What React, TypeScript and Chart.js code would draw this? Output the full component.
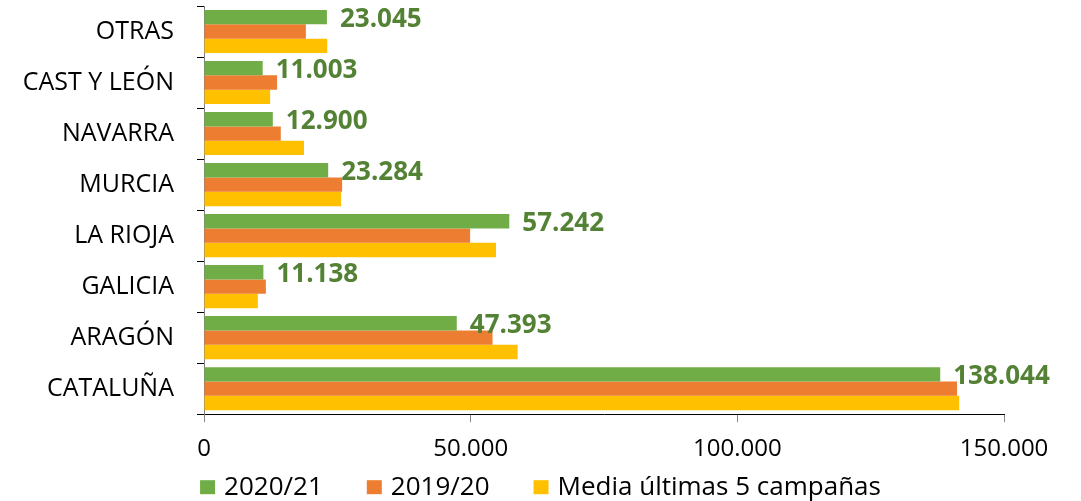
import React, { useEffect, useRef } from "react";
import { Chart, registerables } from "chart.js";

Chart.register(...registerables);

const categories = ["OTRAS", "CAST Y LEÓN", "NAVARRA", "MURCIA", "LA RIOJA", "GALICIA", "ARAGÓN", "CATALUÑA"];
const seriesNames = ["2020/21", "2019/20", "Media últimas 5 campañas"];
const values2021 = [23045, 11003, 12900, 23284, 57242, 11138, 47393, 138044];
const values1920 = [19100, 13700, 14400, 25900, 49900, 11600, 54100, 141200];
const valuesMedia = [23100, 12400, 18750, 25700, 54750, 10100, 58800, 141600];
const xMin = 0;
const xMax = 150000;
const xStep = 50000;

const colors = ["#70AD47", "#ED7D31", "#FFC000"];
const FONT = "'Open Sans', 'DejaVu Sans', sans-serif";

function fmt(v: number): string {
  const s = Math.round(v).toString();
  return s.replace(/\B(?=(\d{3})+(?!\d))/g, ".");
}

const dataLabelPlugin = {
  id: "dataLabels",
  afterDatasetsDraw(chart: any) {
    const ctx = chart.ctx;
    const meta = chart.getDatasetMeta(0);
    ctx.save();
    ctx.font = `bold 26px ${FONT}`;
    ctx.fillStyle = "#548235";
    ctx.textAlign = "left";
    ctx.textBaseline = "middle";
    meta.data.forEach((bar: any, i: number) => {
      ctx.fillText(fmt(values2021[i]), bar.x + 13, bar.y + 2);
    });
    ctx.restore();
  },
};

const legendPlugin = {
  id: "customLegend",
  afterDraw(chart: any) {
    const ctx = chart.ctx;
    const datasets = chart.data.datasets;
    const box = 15;
    const gapText = 9;
    const gapItem = 44;
    ctx.save();
    ctx.font = `26px ${FONT}`;
    ctx.textBaseline = "middle";
    ctx.textAlign = "left";
    const widths = datasets.map((d: any) => box + gapText + ctx.measureText(d.label).width);
    const total = widths.reduce((a: number, b: number) => a + b, 0) + gapItem * (datasets.length - 1);
    let x = (chart.width - total) / 2;
    const yc = chart.chartArea.bottom + 73;
    datasets.forEach((d: any, i: number) => {
      ctx.fillStyle = d.backgroundColor;
      ctx.fillRect(x, yc - 7, box, 14);
      ctx.fillStyle = "#000000";
      ctx.fillText(d.label, x + box + gapText, yc);
      x += widths[i] + gapItem;
    });
    ctx.restore();
  },
};

export default function App() {
  const ref = useRef<HTMLCanvasElement | null>(null);
  useEffect(() => {
    if (!ref.current) return;
    const chart = new Chart(ref.current, {
      type: "bar",
      data: {
        labels: categories,
        datasets: [
          { label: seriesNames[0], data: values2021, backgroundColor: colors[0] },
          { label: seriesNames[1], data: values1920, backgroundColor: colors[1] },
          { label: seriesNames[2], data: valuesMedia, backgroundColor: colors[2] },
        ],
      },
      options: {
        indexAxis: "y",
        responsive: false,
        animation: false,
        maintainAspectRatio: false,
        datasets: { bar: { categoryPercentage: 0.845, barPercentage: 1 } },
        layout: { padding: { top: 6, right: 77, left: 0, bottom: 24 } },
        scales: {
          x: {
            min: xMin,
            max: xMax,
            grid: { display: true, drawOnChartArea: false, drawTicks: true, tickLength: 8, color: "#868686" },
            border: { display: true, color: "#000000", width: 1 },
            ticks: {
              stepSize: xStep,
              padding: 13,
              color: "#000000",
              font: { family: FONT, size: 24 },
              callback: (v: any) => fmt(Number(v)),
              maxRotation: 0,
            },
          },
          y: {
            afterFit: (scale: any) => {
              scale.width = 204;
              scale.paddingTop = 0;
              scale.paddingBottom = 0;
            },
            grid: { display: true, drawOnChartArea: false, drawTicks: true, tickLength: 7, color: "#000000", offset: true },
            border: { display: true, color: "#808080", width: 1 },
            ticks: {
              padding: 23,
              color: "#000000",
              font: { family: FONT, size: 25 },
            },
          },
        },
        plugins: {
          legend: { display: false },
          tooltip: { enabled: false },
        },
      },
      plugins: [dataLabelPlugin, legendPlugin],
    } as any);
    return () => chart.destroy();
  }, []);
  return (
    <div style={{ position: "absolute", left: 0, top: 0, width: 1081, height: 501, background: "#fff" }}>
      <canvas ref={ref} width={1081} height={501} style={{ display: "block", width: 1081, height: 501 }} />
    </div>
  );
}
